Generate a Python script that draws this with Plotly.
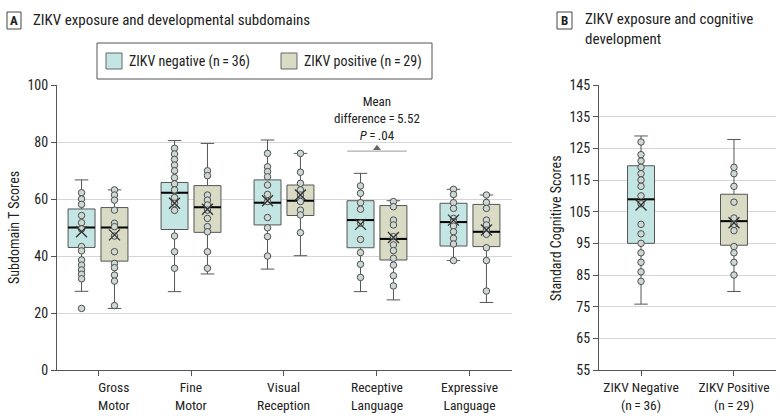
import plotly.graph_objects as go

# ---------------- Data ----------------
categories = ["Gross<br>Motor", "Fine<br>Motor", "Visual<br>Reception", "Receptive<br>Language", "Expressive<br>Language"]

neg_q1 = [43.0, 49.3, 50.9, 42.9, 43.5]
neg_med = [50.0, 62.2, 58.7, 52.6, 51.9]
neg_q3 = [56.5, 65.8, 66.7, 59.4, 58.5]
neg_lo = [27.6, 27.5, 35.4, 27.5, 38.4]
neg_hi = [66.7, 80.5, 80.7, 69.0, 63.4]
neg_mean = [48.5, 58.5, 59.4, 51.1, 52.6]
neg_points = [
    [62.2, 60.0, 58.1, 54.2, 51.7, 49.5, 43.3, 41.8, 38.6, 36.8, 35.1, 33.6, 32.0, 21.6],
    [77.8, 75.8, 73.9, 71.9, 69.9, 67.5, 65.3, 63.2, 60.5, 58.5, 56.0, 47.0, 41.5, 35.7],
    [76.0, 71.3, 69.6, 67.8, 64.9, 61.6, 59.1, 53.5, 49.9, 46.8, 40.0],
    [64.6, 62.0, 58.7, 56.4, 51.5, 45.8, 41.2, 37.1, 32.5],
    [63.4, 61.6, 58.7, 56.7, 53.2, 52.0, 50.5, 48.5, 46.2, 44.2, 38.4],
]

pos_q1 = [38.2, 48.3, 54.2, 38.6, 43.3]
pos_med = [50.0, 57.1, 59.4, 46.0, 48.5]
pos_q3 = [57.0, 64.7, 64.9, 57.7, 58.1]
pos_lo = [21.6, 33.7, 40.1, 24.6, 23.7]
pos_hi = [63.2, 79.5, 76.0, 59.4, 61.4]
pos_mean = [47.4, 56.4, 61.4, 46.5, 49.1]
pos_points = [
    [63.2, 61.4, 59.6, 56.1, 51.5, 50.3, 47.0, 41.5, 37.4, 35.9, 33.3, 31.2, 22.6],
    [69.9, 68.2, 61.4, 59.6, 57.9, 56.1, 53.2, 50.3, 48.5, 41.5, 35.7],
    [76.0, 69.4, 65.5, 63.2, 61.4, 59.1, 56.1, 54.4, 48.2],
    [59.1, 57.3, 52.6, 50.9, 46.8, 43.9, 41.9, 39.2, 36.8, 33.1, 29.5],
    [61.4, 58.8, 56.7, 52.6, 50.9, 49.1, 47.6, 42.9, 38.4, 27.7],
]

cog_groups = ["ZIKV Negative<br>(n\u2009=\u200936)", "ZIKV Positive<br>(n\u2009=\u200929)"]
cog_q1 = [95.0, 94.4]
cog_med = [108.9, 102.0]
cog_q3 = [119.5, 110.5]
cog_lo = [75.8, 79.8]
cog_hi = [128.9, 127.8]
cog_mean = [107.1, 101.5]
cog_points = [
    [127, 123, 121, 119, 117, 115, 113, 110, 107.5, 101, 98, 95, 92, 89, 86, 83],
    [119, 117, 113, 108, 103, 101, 99, 94, 92, 89, 85],
]

legend_names = ["ZIKV negative (n\u2009=\u200936)", "ZIKV positive (n\u2009=\u200929)"]
mean_diff_text = "Mean<br>difference\u2009=\u20095.52<br><i>P</i>\u2009=\u2009.04"
sig_category = 3
sig_level = 76.8

# ---------------- Style ----------------
FONT = "Liberation Sans Narrow, Roboto Condensed, Arial Narrow, Roboto, sans-serif"
NEG_FILL = "#c3e5e4"
POS_FILL = "#d9dbc4"
BOX_LINE = "#555555"
PT_FILL = "#cdd8d3"
PT_LINE = "#4f4f4f"
GRID = "#d6d6d6"
AX = "#555555"
OFF = 0.177
BW = 0.29

fig = go.Figure()

def add_group(xpos, q1, med, q3, lo, hi, mean, pts, fill, name, xa, ya):
    fig.add_trace(go.Box(
        x=[xpos], q1=[q1], median=[med], q3=[q3], lowerfence=[lo], upperfence=[hi],
        fillcolor=fill, line=dict(color=BOX_LINE, width=1), width=BW, whiskerwidth=0.5,
        boxpoints=False, name=name, showlegend=False,
        xaxis=xa, yaxis=ya, hoverinfo="skip"))
    fig.add_trace(go.Scatter(
        x=[xpos - BW / 2, xpos + BW / 2], y=[med, med], mode="lines",
        line=dict(color="black", width=2), showlegend=False, xaxis=xa, yaxis=ya, hoverinfo="skip"))
    fig.add_trace(go.Scatter(
        x=[xpos] * len(pts), y=pts, mode="markers",
        marker=dict(symbol="circle", size=6.5, color=PT_FILL, line=dict(color=PT_LINE, width=1)),
        showlegend=False, xaxis=xa, yaxis=ya, hoverinfo="skip"))
    fig.add_trace(go.Scatter(
        x=[xpos], y=[mean], mode="markers",
        marker=dict(symbol="x-thin-open", size=11, color="#333333",
                    line=dict(color="#333333", width=1.3)),
        showlegend=False, xaxis=xa, yaxis=ya, hoverinfo="skip"))

for i in range(len(categories)):
    add_group(i - OFF, neg_q1[i], neg_med[i], neg_q3[i], neg_lo[i], neg_hi[i], neg_mean[i],
              neg_points[i], NEG_FILL, legend_names[0], "x", "y")
    add_group(i + OFF, pos_q1[i], pos_med[i], pos_q3[i], pos_lo[i], pos_hi[i], pos_mean[i],
              pos_points[i], POS_FILL, legend_names[1], "x", "y")

for j in range(len(cog_groups)):
    add_group(j, cog_q1[j], cog_med[j], cog_q3[j], cog_lo[j], cog_hi[j], cog_mean[j],
              cog_points[j], [NEG_FILL, POS_FILL][j], legend_names[j], "x2", "y2")

# significance bracket
fig.add_trace(go.Scatter(x=[sig_category - 0.32, sig_category + 0.32], y=[sig_level, sig_level],
                         mode="lines", line=dict(color="#9a9a9a", width=1), showlegend=False,
                         hoverinfo="skip"))
fig.add_trace(go.Scatter(x=[sig_category], y=[sig_level + 1.0], mode="markers",
                         marker=dict(symbol="triangle-up", size=7, color="#666666"),
                         showlegend=False, hoverinfo="skip"))

W, H = 780, 418
def px(x): return x / W
def py(y): return 1 - y / H

fig.update_layout(
    width=W, height=H, margin=dict(l=0, r=0, t=0, b=0, autoexpand=False),
    plot_bgcolor="white", paper_bgcolor="white",
    font=dict(family=FONT, size=13, color="#222222"),
    showlegend=False,
    xaxis=dict(domain=[px(57), px(512)], range=[-0.441, 4.452], tickvals=list(range(5)),
               showticklabels=False, ticks="outside", ticklen=5, tickcolor=AX,
               showline=True, linecolor=AX, showgrid=False, zeroline=False, anchor="y",
               automargin=False),
    yaxis=dict(domain=[py(370), py(85)], range=[0, 100], dtick=20, ticks="outside", ticklen=5,
               tickcolor=AX, showline=True, linecolor=AX, gridcolor=GRID, zeroline=False,
               tickfont=dict(size=14), anchor="x", automargin=False),
    xaxis2=dict(domain=[px(599), px(776)], range=[-0.452, 1.452], tickvals=[0, 1],
                ticktext=cog_groups, ticks="outside", ticklen=5, tickcolor=AX,
                showline=True, linecolor=AX, showgrid=False, zeroline=False, anchor="y2",
                tickfont=dict(size=13.5), automargin=False),
    yaxis2=dict(domain=[py(370), py(85)], range=[55, 145], tick0=55, dtick=10, ticks="outside",
                ticklen=5, tickcolor=AX, showline=True, linecolor=AX, gridcolor=GRID,
                zeroline=False, tickfont=dict(size=14), anchor="x2", automargin=False),
)

annotations = []
for i, c in enumerate(categories):
    annotations.append(dict(x=i + (0.17 if i == 0 else 0), y=0, xref="x", yref="y", yshift=-7,
                            text=c, showarrow=False, xanchor="center", yanchor="top",
                            font=dict(size=13.5)))
annotations.append(dict(x=sig_category, y=88.1, xref="x", yref="y", text=mean_diff_text,
                        showarrow=False, yanchor="middle", font=dict(size=13)))
annotations.append(dict(x=px(14), y=py(228), xref="paper", yref="paper", text="Subdomain T Scores",
                        textangle=-90, showarrow=False, xanchor="center", yanchor="middle",
                        font=dict(size=14)))
annotations.append(dict(x=px(556), y=py(228), xref="paper", yref="paper",
                        text="Standard Cognitive Scores", textangle=-90, showarrow=False,
                        xanchor="center", yanchor="middle", font=dict(size=14)))
annotations.append(dict(x=px(14), y=py(20.5), xref="paper", yref="paper", text="<b>A</b>",
                        showarrow=False, xanchor="center", yanchor="middle", font=dict(size=13)))
annotations.append(dict(x=px(31), y=py(20), xref="paper", yref="paper",
                        text="ZIKV exposure and developmental subdomains", xanchor="left",
                        yanchor="middle", showarrow=False, font=dict(size=15)))
annotations.append(dict(x=px(564.5), y=py(20.5), xref="paper", yref="paper", text="<b>B</b>",
                        showarrow=False, xanchor="center", yanchor="middle", font=dict(size=13)))
annotations.append(dict(x=px(583), y=py(29), xref="paper", yref="paper",
                        text="ZIKV exposure and cognitive<br>development", xanchor="left",
                        yanchor="middle", align="left", showarrow=False, font=dict(size=15)))
# manual legend texts
leg_text_x = [127, 302]
for name, lx in zip(legend_names, leg_text_x):
    annotations.append(dict(x=px(lx), y=py(61), xref="paper", yref="paper", text=name,
                            xanchor="left", yanchor="middle", showarrow=False,
                            font=dict(size=14)))
fig.update_layout(annotations=annotations)

shapes = [
    dict(type="rect", xref="paper", yref="paper", x0=px(7), x1=px(21), y0=py(29), y1=py(12),
         line=dict(color="#444444", width=1)),
    dict(type="rect", xref="paper", yref="paper", x0=px(557), x1=px(572), y0=py(29), y1=py(12),
         line=dict(color="#444444", width=1)),
    # legend frame
    dict(type="rect", xref="paper", yref="paper", x0=px(97), x1=px(432), y0=py(79), y1=py(43),
         line=dict(color="#555555", width=1), fillcolor="white", layer="below"),
]
for fill, sx in zip([NEG_FILL, POS_FILL], [106, 281]):
    shapes.append(dict(type="rect", xref="paper", yref="paper", x0=px(sx), x1=px(sx + 16),
                       y0=py(69), y1=py(53), fillcolor=fill, line=dict(color="#666666", width=1)))
fig.update_layout(shapes=shapes)

fig.write_html("out.html", config={"displayModeBar": False},
               post_script="document.body.style.margin='0px';")
